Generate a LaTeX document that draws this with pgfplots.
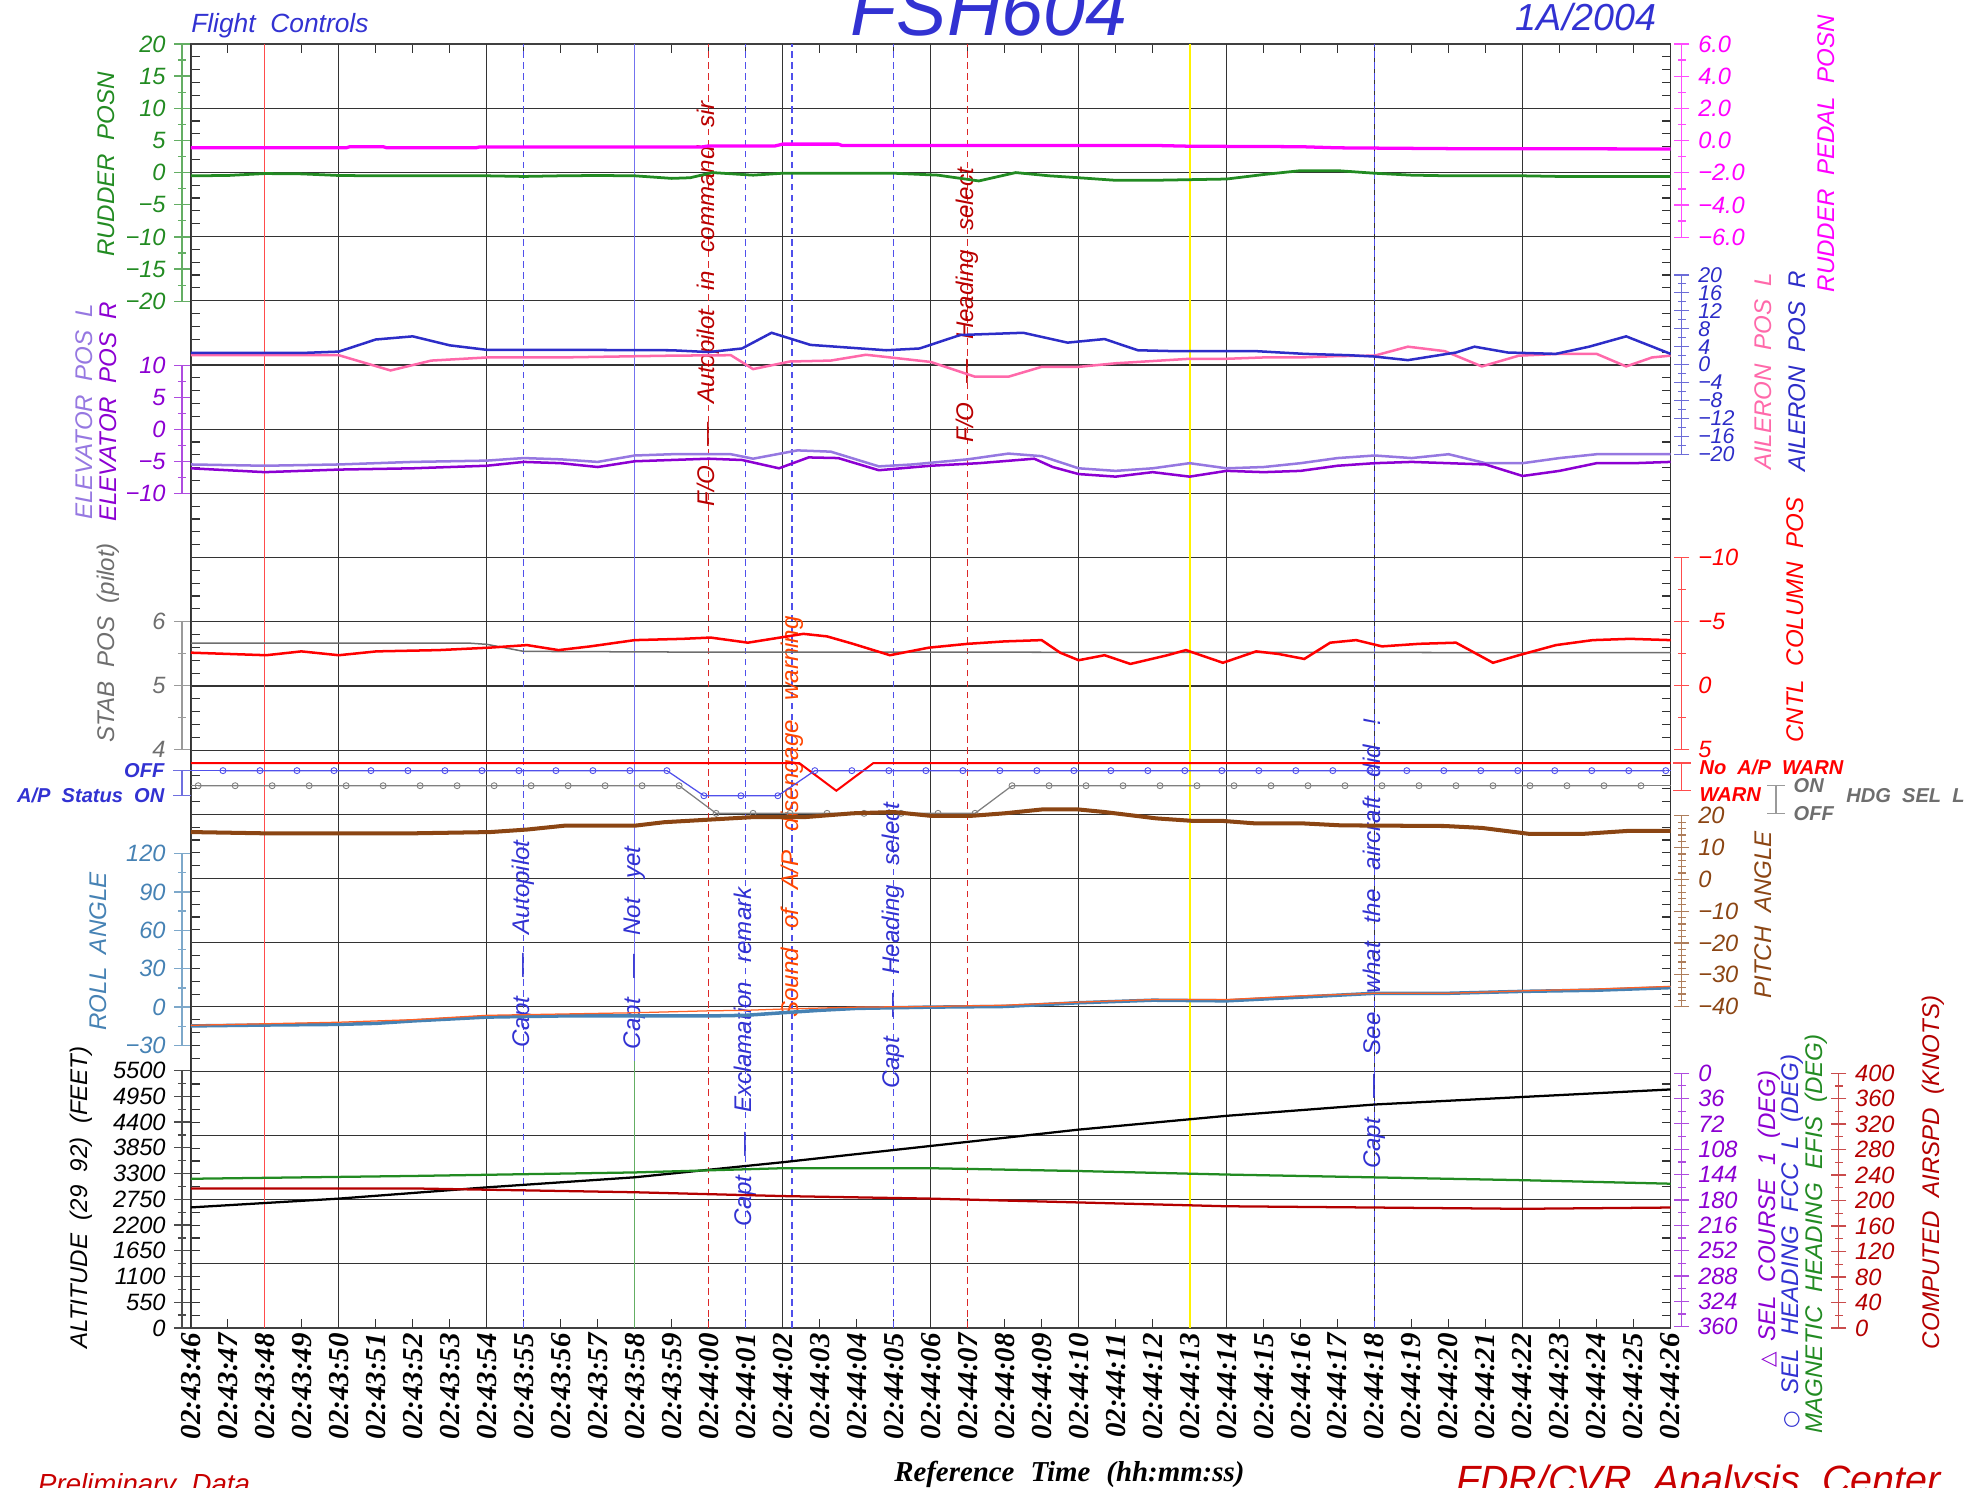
\documentclass[border=0pt]{standalone}
\usepackage{fontspec}
\setmainfont{Liberation Sans}
\newfontfamily\timesf{Liberation Serif}
\newfontfamily\dejavu{DejaVu Sans}
\usepackage{pgfplots}
\pgfplotsset{compat=1.18}

\definecolor{cBlue}{RGB}{50,50,210}
\definecolor{cGreen}{RGB}{34,139,34}
\definecolor{cMag}{RGB}{255,0,255}
\definecolor{cElevL}{RGB}{150,120,225}
\definecolor{cElevR}{RGB}{140,0,210}
\definecolor{cGray}{RGB}{110,110,110}
\definecolor{cPink}{RGB}{255,105,170}
\definecolor{cAilR}{RGB}{45,45,200}
\definecolor{cRed}{RGB}{255,0,0}
\definecolor{cSteel}{RGB}{70,130,180}
\definecolor{cBrown}{RGB}{139,69,19}
\definecolor{cPurp}{RGB}{153,50,204}
\definecolor{cDRed}{RGB}{180,0,0}
\definecolor{cOrange}{RGB}{255,69,0}
\definecolor{cFO}{RGB}{185,0,0}
\definecolor{cEvBlue}{RGB}{80,80,235}
\definecolor{cEvRed}{RGB}{220,40,40}
\definecolor{cFoot}{RGB}{200,0,0}

\newcommand{\ticklab}{\fontsize{9.4}{9.4}\selectfont\itshape}
\newcommand{\labfont}{\fontsize{9.6}{10}\selectfont\itshape}
\newcommand{\gap}{\hspace{0.8em}}
\newcommand{\dsp}{\hspace{0.556em}}

\pgfplotsset{
  dax/.style={scale only axis, width=589.5pt, xmin=0, xmax=40, hide axis, clip=false, anchor=south west},
  sc/.style={scale only axis, width=1pt, xmin=0, xmax=1, axis x line=none,
     tick align=outside, major tick length=6pt, minor tick length=3.2pt,
     yticklabel style={font=\ticklab}, clip=false},
  lsc/.style={sc, axis y line=left, anchor=south west},
  rsc/.style={sc, axis y line=right, anchor=south east},
  scol/.style={axis line style={#1!70, -, line width=0.5pt}, tick style={#1!70, line width=0.5pt}, yticklabel style={text=#1}},
  evb/.style={cEvBlue, dash pattern=on 2.6pt off 1.8pt, line width=0.5pt},
  evr/.style={cEvRed, dash pattern=on 2.6pt off 1.8pt, line width=0.5pt},
}

\begin{document}
\begin{tikzpicture}
\useasboundingbox (0pt,0pt) rectangle (784pt,-592.5pt);

% ---------------- main frame with grid and event lines
\begin{axis}[
  at={(76pt,-529pt)}, anchor=south west,
  scale only axis, width=589.5pt, height=511.5pt,
  xmin=0, xmax=40, ymin=0, ymax=20,
  xtick={0,...,40},
  xticklabels={02:43:46,02:43:47,02:43:48,02:43:49,02:43:50,02:43:51,02:43:52,02:43:53,02:43:54,02:43:55,02:43:56,02:43:57,02:43:58,02:43:59,02:44:00,02:44:01,02:44:02,02:44:03,02:44:04,02:44:05,02:44:06,02:44:07,02:44:08,02:44:09,02:44:10,02:44:11,02:44:12,02:44:13,02:44:14,02:44:15,02:44:16,02:44:17,02:44:18,02:44:19,02:44:20,02:44:21,02:44:22,02:44:23,02:44:24,02:44:25,02:44:26},
  xticklabel style={rotate=90, anchor=east, font=\timesf\bfseries\itshape\fontsize{11.5}{11.5}\selectfont, inner sep=2pt},
  ytick={0,...,20}, yticklabels={},
  minor y tick num=4,
  ymajorgrids, grid style={black!80, line width=0.45pt},
  extra x ticks={0,4,...,40}, extra x tick labels={},
  extra x tick style={xmajorgrids=true, major tick length=0pt},
  tick align=inside, major tick length=3.5pt, minor tick length=3.5pt,
  tick style={black!80, line width=0.45pt},
  axis line style={black!75, line width=0.6pt},
  clip=false,
]
\addplot[cRed!70, line width=0.5pt] coordinates {(2,0) (2,20)};
\addplot[evb] coordinates {(9,0) (9,20)};
\addplot[cEvBlue!80, line width=0.5pt] coordinates {(12,4.16) (12,20)};
\addplot[cGreen!70, line width=0.5pt] coordinates {(12,0) (12,4.16)};
\addplot[evr] coordinates {(14,0) (14,20)};
\addplot[evb] coordinates {(15,0) (15,20)};
\addplot[evb] coordinates {(16.25,0) (16.25,20)};
\addplot[evb] coordinates {(19,0) (19,20)};
\addplot[evr] coordinates {(21,0) (21,20)};
\addplot[yellow, line width=0.7pt] coordinates {(27,0) (27,20)};
\addplot[evb] coordinates {(32,0) (32,20)};

\node[rotate=90, text=cFO, font=\labfont] at (axis cs:14,15.95) {F/O\gap—\gap Autopilot\gap in\gap command\gap sir};
\node[rotate=90, text=cFO, font=\labfont] at (axis cs:21,15.93) {F/O\gap—\gap Heading\gap select};
\node[rotate=90, text=cBlue, font=\labfont] at (axis cs:9,5.98) {Capt\gap—\gap Autopilot};
\node[rotate=90, text=cBlue, font=\labfont] at (axis cs:12,5.92) {Capt\gap—\gap Not\gap yet};
\node[rotate=90, text=cBlue, font=\labfont] at (axis cs:15,4.22) {Capt\gap—\gap Exclamation\gap remark};
\node[rotate=90, text=cOrange, font=\labfont] at (axis cs:16.25,7.96) {Sound\gap of\gap A/P\gap disengage\gap warning};
\node[rotate=90, text=cBlue, font=\labfont] at (axis cs:19,5.96) {Capt\gap—\gap Heading\gap select};
\node[rotate=90, text=cBlue, font=\labfont] at (axis cs:32,5.98) {Capt\gap—\gap See\gap what\gap the\gap aircraft\gap did\gap !};
\end{axis}

% ---------------- left scales
\begin{axis}[lsc, scol=cGreen, at={(72.5pt,-120pt)}, height=102.5pt, ymin=-20, ymax=20,
  ytick={-20,-15,...,20}, yticklabels={−20,−15,−10,−5,0,5,10,15,20}, minor y tick num=1]
\end{axis}
\begin{axis}[lsc, scol=cElevR, at={(72.5pt,-196.5pt)}, height=51pt, ymin=-10, ymax=10,
  ytick={-10,-5,...,10}, yticklabels={−10,−5,0,5,10}, minor y tick num=1]
\end{axis}
\begin{axis}[lsc, scol=cGray, at={(72.5pt,-298.5pt)}, height=51pt, ymin=4, ymax=6,
  ytick={4,5,6}, yticklabels={4,5,6}, minor y tick num=1]
\end{axis}
\begin{axis}[lsc, scol=cBlue, at={(72.5pt,-317pt)}, height=10pt, ymin=0, ymax=1,
  ytick={0,1}, yticklabels={A/P\dsp Status\dsp ON,OFF}, major tick length=7pt,
  yticklabel style={font=\fontsize{8}{8}\selectfont\bfseries\itshape, inner ysep=0pt}]
\end{axis}
\begin{axis}[lsc, scol=cSteel, at={(72.5pt,-416.5pt)}, height=76.5pt, ymin=-30, ymax=120,
  ytick={-30,0,...,120}, yticklabels={−30,0,30,60,90,120}, minor y tick num=1]
\end{axis}
\begin{axis}[lsc, scol=black, at={(72.5pt,-529pt)}, height=102.5pt, ymin=0, ymax=5500,
  ytick={0,550,...,5500}, yticklabels={0,550,1100,1650,2200,2750,3300,3850,4400,4950,5500}, minor y tick num=1]
\end{axis}

% ---------------- right scales
\begin{axis}[rsc, scol=cMag, at={(670pt,-94.5pt)}, height=77pt, ymin=-6, ymax=6,
  ytick={-6,-4,...,6}, yticklabels={−6.0,−4.0,−2.0,0.0,2.0,4.0,6.0}, minor y tick num=1]
\end{axis}
\begin{axis}[rsc, scol=cAilR, at={(670pt,-181pt)}, height=71.5pt, ymin=-20, ymax=20,
  ytick={-20,-16,...,20}, yticklabels={−20,−16,−12,−8,−4,0,4,8,12,16,20}, minor y tick num=1,
  yticklabel style={font=\fontsize{8.5}{8.5}\selectfont\itshape}]
\end{axis}
\begin{axis}[rsc, scol=cRed, at={(670pt,-298.5pt)}, height=76.5pt, ymin=-10, ymax=5, y dir=reverse,
  ytick={-10,-5,0,5}, yticklabels={−10,−5,0,5}, minor y tick num=1,
  yticklabel style={inner ysep=0pt}]
\end{axis}
\begin{axis}[rsc, scol=cRed, at={(670pt,-315pt)}, height=11pt, ymin=0, ymax=1, y dir=reverse,
  ytick={0,1}, yticklabels={No\dsp A/P\dsp WARN,WARN}, major tick length=7pt,
  yticklabel style={font=\fontsize{8}{8}\selectfont\bfseries\itshape, inner ysep=0pt, yshift=-1.6pt}]
\end{axis}
\begin{axis}[rsc, scol=cGray, at={(707.5pt,-324pt)}, height=11pt, ymin=0, ymax=1,
  ytick={0,1}, yticklabels={OFF,ON}, major tick length=7pt,
  yticklabel style={font=\fontsize{8}{8}\selectfont\bfseries\itshape, inner ysep=0pt}]
\end{axis}
\begin{axis}[rsc, scol=cBrown, at={(670pt,-401pt)}, height=76pt, ymin=-40, ymax=20,
  ytick={-40,-30,...,20}, yticklabels={−40,−30,−20,−10,0,10,20}, minor y tick num=4]
\end{axis}
\begin{axis}[rsc, scol=cElevR, at={(670pt,-528.5pt)}, height=101pt, ymin=0, ymax=360, y dir=reverse,
  ytick={0,36,...,360}, yticklabels={0,36,72,108,144,180,216,252,288,324,360}, minor y tick num=1]
\end{axis}
\begin{axis}[rsc, scol=cDRed, at={(732.5pt,-529pt)}, height=101.5pt, ymin=0, ymax=400,
  ytick={0,40,...,400}, yticklabels={0,40,80,120,160,200,240,280,320,360,400}, minor y tick num=1]
\end{axis}

% ---------------- data
% rudder pedal
\begin{axis}[dax, at={(76pt,-94.5pt)}, height=77pt, ymin=-6, ymax=6]
\addplot[cMag, line width=1.3pt] coordinates {(0,-0.45)(4.2,-0.45)(4.3,-0.38)(5.2,-0.38)(5.3,-0.45)(7.7,-0.45)(7.8,-0.40)(13.8,-0.40)(14,-0.33)(15.8,-0.33)(16,-0.22)(17.5,-0.22)(17.6,-0.30)(26,-0.30)(27,-0.35)(30,-0.38)(31,-0.45)(34,-0.50)(40,-0.52)};
\end{axis}
% rudder
\begin{axis}[dax, at={(76pt,-120pt)}, height=102.5pt, ymin=-20, ymax=20]
\addplot[cGreen, line width=1.1pt] coordinates {(0,-0.5)(1,-0.45)(2,-0.15)(3,-0.2)(4,-0.45)(5,-0.5)(8,-0.5)(9,-0.6)(10,-0.5)(11,-0.45)(12,-0.5)(13,-0.9)(13.5,-0.8)(14.1,0)(15.2,-0.4)(16,-0.1)(19,-0.1)(20.2,-0.4)(21.3,-1.3)(22.3,0)(23.2,-0.5)(24,-0.8)(25,-1.2)(26,-1.2)(27,-1.1)(28,-1.0)(29,-0.3)(30,0.3)(31,0.3)(32,-0.1)(33,-0.4)(34,-0.5)(36,-0.5)(37,-0.6)(40,-0.6)};
\end{axis}
% ailerons
\begin{axis}[dax, at={(76pt,-181pt)}, height=71.5pt, ymin=-20, ymax=20]
\addplot[cPink, line width=1pt] coordinates {(0,2.1)(4,2.1)(5.4,-1.3)(6.5,0.9)(8,1.6)(10,1.6)(13,2.0)(14.6,2.1)(15.2,-1.0)(16.2,0.7)(17.3,0.9)(18.25,2.2)(20,0.6)(21.2,-2.7)(22.1,-2.7)(23,-0.5)(24,-0.5)(25,0.3)(26,0.8)(27,1.3)(28,1.3)(29,1.6)(30,1.6)(31,1.9)(32,2.0)(32.9,4.0)(33.9,3.0)(34.9,-0.4)(35.9,2.0)(37,2.4)(38,2.4)(38.8,-0.4)(39.5,1.6)(40,2.0)};
\addplot[cAilR, line width=1pt] coordinates {(0,2.6)(3,2.6)(4,2.9)(5,5.6)(6,6.3)(7,4.3)(8,3.3)(10,3.3)(13,3.2)(14,2.8)(14.9,3.6)(15.7,7.1)(16.75,4.4)(18.8,3.2)(19.7,3.6)(20.8,6.6)(22.5,7.1)(23.7,4.9)(24.7,5.7)(25.6,3.2)(26.6,3.0)(28.8,3.0)(30.1,2.4)(31.3,2.1)(32,1.8)(32.9,1.0)(34.2,2.7)(34.7,4.0)(35.6,2.7)(36.9,2.4)(37.8,4.0)(38.8,6.3)(40,2.4)};
\end{axis}
% elevators
\begin{axis}[dax, at={(76pt,-196.5pt)}, height=51pt, ymin=-10, ymax=10]
\addplot[cElevL, line width=1pt] coordinates {(0,-5.5)(2,-5.7)(4,-5.5)(6,-5.1)(8,-4.9)(9,-4.5)(10,-4.7)(11,-5.1)(12,-4.1)(13,-3.9)(14.6,-3.9)(15.2,-4.6)(16.4,-3.3)(17.3,-3.5)(18.6,-5.8)(19.5,-5.5)(21,-4.7)(22.1,-3.8)(23,-4.2)(24,-6.1)(25,-6.5)(26,-6.1)(27,-5.3)(28,-6.1)(29,-5.9)(30,-5.3)(31,-4.5)(32,-4.1)(33,-4.5)(34,-3.9)(35,-5.3)(36,-5.3)(37,-4.5)(38,-3.9)(40,-3.9)};
\addplot[cElevR, line width=1pt] coordinates {(0,-6.1)(2,-6.7)(4,-6.3)(6,-6.1)(8,-5.7)(9,-5.1)(10,-5.3)(11,-5.9)(12,-5.0)(14,-4.6)(14.9,-4.8)(15.9,-6.1)(16.7,-4.4)(17.5,-4.5)(18.6,-6.4)(20,-5.7)(21.3,-5.3)(22.8,-4.6)(23.3,-5.9)(24,-7.0)(25,-7.4)(26,-6.7)(27,-7.4)(28,-6.5)(29,-6.7)(30,-6.5)(31,-5.7)(32,-5.3)(33,-5.1)(34,-5.3)(35,-5.5)(36,-7.3)(37,-6.5)(38,-5.3)(39,-5.3)(40,-5.1)};
\end{axis}
% stab
\begin{axis}[dax, at={(76pt,-298.5pt)}, height=51pt, ymin=4, ymax=6]
\addplot[cGray, line width=0.6pt] coordinates {(0,5.66)(7.5,5.66)(8,5.64)(9,5.53)(13,5.52)(40,5.51)};
\end{axis}
% control column
\begin{axis}[dax, at={(76pt,-298.5pt)}, height=76.5pt, ymin=-10, ymax=5, y dir=reverse]
\addplot[cRed, line width=1pt] coordinates {(0,-2.55)(2.04,-2.35)(2.99,-2.65)(4.0,-2.35)(5.02,-2.65)(6.7,-2.75)(8.07,-2.94)(9.09,-3.14)(9.94,-2.75)(10.8,-3.04)(12.0,-3.53)(13.3,-3.63)(14.05,-3.73)(15.06,-3.33)(16.56,-4.02)(17.2,-3.82)(17.9,-3.24)(18.9,-2.35)(19.95,-2.94)(21.0,-3.24)(22.0,-3.43)(23.0,-3.53)(23.5,-2.55)(24.0,-1.96)(24.7,-2.35)(25.4,-1.67)(26.4,-2.35)(26.9,-2.75)(27.9,-1.76)(28.8,-2.65)(29.4,-2.45)(30.1,-2.06)(30.8,-3.33)(31.5,-3.53)(32.2,-3.04)(33.2,-3.24)(34.2,-3.33)(35.2,-1.76)(35.9,-2.35)(36.9,-3.14)(37.9,-3.53)(38.9,-3.63)(40,-3.53)};
\end{axis}
% A/P warn
\begin{axis}[dax, at={(76pt,-315pt)}, height=11pt, ymin=0, ymax=1, y dir=reverse]
\addplot[cRed, line width=0.8pt] coordinates {(0,0)(16.45,0)(17.45,1)(18.45,0)(40,0)};
\end{axis}
% A/P status
\begin{axis}[dax, at={(76pt,-317pt)}, height=10pt, ymin=0, ymax=1]
\addplot[cEvBlue, line width=0.5pt] coordinates {(0,1)(0.87,1)};
\addplot[cEvBlue, line width=0.5pt, mark=o, mark size=1.2pt, mark options={line width=0.35pt}] coordinates {(0.87,1)(1.87,1)(2.87,1)(3.87,1)(4.87,1)(5.87,1)(6.87,1)(7.87,1)(8.87,1)(9.87,1)(10.87,1)(11.87,1)(12.87,1)(13.87,0)(14.87,0)(15.87,0)(16.87,1)(17.87,1)(18.87,1)(19.87,1)(20.87,1)(21.87,1)(22.87,1)(23.87,1)(24.87,1)(25.87,1)(26.87,1)(27.87,1)(28.87,1)(29.87,1)(30.87,1)(31.87,1)(32.87,1)(33.87,1)(34.87,1)(35.87,1)(36.87,1)(37.87,1)(38.87,1)(39.87,1)};
\addplot[cEvBlue, line width=0.5pt] coordinates {(39.87,1)(40,1)};
\end{axis}
% HDG SEL L
\begin{axis}[dax, at={(76pt,-324pt)}, height=11pt, ymin=0, ymax=1]
\addplot[gray, line width=0.5pt] coordinates {(0,1)(0.2,1)};
\addplot[gray, line width=0.5pt, mark=o, mark size=1.2pt, mark options={line width=0.35pt}] coordinates {(0.2,1)(1.2,1)(2.2,1)(3.2,1)(4.2,1)(5.2,1)(6.2,1)(7.2,1)(8.2,1)(9.2,1)(10.2,1)(11.2,1)(12.2,1)(13.2,1)(14.2,0)(15.2,0)(16.2,0)(17.2,0)(18.2,0)(19.2,0)(20.2,0)(21.2,0)(22.2,1)(23.2,1)(24.2,1)(25.2,1)(26.2,1)(27.2,1)(28.2,1)(29.2,1)(30.2,1)(31.2,1)(32.2,1)(33.2,1)(34.2,1)(35.2,1)(36.2,1)(37.2,1)(38.2,1)(39.2,1)};
\addplot[gray, line width=0.5pt] coordinates {(39.2,1)(40,1)};
\end{axis}
% pitch
\begin{axis}[dax, at={(76pt,-401pt)}, height=76pt, ymin=-40, ymax=20]
\addplot[cBrown, line width=1.6pt] coordinates {(0,14.9)(2,14.5)(6,14.5)(8.1,14.9)(9.1,15.7)(10.1,16.9)(12,16.9)(12.8,18.0)(14,18.8)(15.2,19.6)(16.6,19.6)(17.9,20.8)(19,21.2)(20,20.0)(21.1,20.0)(22,20.8)(23,22.0)(24,22.0)(24.7,21.2)(26.1,19.2)(27.1,18.4)(27.9,18.4)(28.8,17.6)(30.1,17.6)(31.1,17.0)(33.9,16.8)(34.9,16.2)(36.2,14.3)(37.6,14.3)(38.9,15.3)(40,15.3)};
\end{axis}
% roll
\begin{axis}[dax, at={(76pt,-416.5pt)}, height=76.5pt, ymin=-30, ymax=120]
\addplot[cSteel, line width=1.4pt] coordinates {(0,-14.7)(2,-14)(4,-13.5)(5,-12.7)(6,-10.8)(8,-7.8)(10,-6.9)(12,-6.9)(14,-6.9)(15,-6.4)(16,-4.4)(17,-2.5)(18,-1)(20,0)(22,0.5)(24,3.4)(26,5.4)(28,4.9)(30,7.8)(32,10.8)(34,10.8)(36,12.3)(38,13.2)(40,15.2)};
\addplot[cOrange!85, line width=0.5pt] coordinates {(0,-14.2)(4,-11.8)(6,-9.8)(8,-6.4)(10,-5.4)(12,-4.4)(14,-2.9)(15,-2.5)(16,-1.5)(18,0)(20,0.5)(22,1.5)(24,3.9)(26,5.9)(28,5.9)(30,8.8)(32,10.8)(34,10.8)(36,12.7)(38,14.2)(40,16.2)};
\end{axis}
% altitude
\begin{axis}[dax, at={(76pt,-529pt)}, height=102.5pt, ymin=0, ymax=5500]
\addplot[black, line width=0.9pt] coordinates {(0,2576)(4,2764)(8,3005)(12,3220)(16,3542)(20,3890)(24,4239)(28,4534)(32,4776)(36,4937)(40,5098)};
\end{axis}
% magnetic heading
\begin{axis}[dax, at={(76pt,-528.5pt)}, height=101pt, ymin=0, ymax=360, y dir=reverse]
\addplot[cGreen, line width=0.9pt] coordinates {(0,150)(6,146)(12,141)(16,135)(20,135)(24,139)(28,144)(32,148)(36,152)(40,157)};
\end{axis}
% airspeed
\begin{axis}[dax, at={(76pt,-529pt)}, height=101.5pt, ymin=0, ymax=400]
\addplot[cDRed, line width=0.9pt] coordinates {(0,219)(6,219)(12,213)(16,207)(20,203)(24,197)(28,191)(32,189)(36,187)(40,189)};
\end{axis}

% ---------------- axis titles
\node[rotate=90, text=cGreen, font=\labfont] at (42.5pt,-65.5pt) {RUDDER\dsp POSN};
\node[rotate=90, text=cElevL, font=\labfont] at (33.5pt,-164pt) {ELEVATOR\dsp POS\dsp L};
\node[rotate=90, text=cElevR, font=\labfont] at (43pt,-164pt) {ELEVATOR\dsp POS\dsp R};
\node[rotate=90, text=cGray, font=\labfont] at (43pt,-256pt) {STAB\dsp POS\dsp (pilot)};
\node[rotate=90, text=cSteel, font=\labfont] at (39pt,-379pt) {ROLL\dsp ANGLE};
\node[rotate=90, text=black, font=\labfont] at (32.5pt,-477pt) {ALTITUDE\dsp (29\dsp 92)\dsp (FEET)};

\node[rotate=90, anchor=west, text=cMag, font=\labfont] at (728.5pt,-120pt) {RUDDER\dsp PEDAL\dsp POSN\dsp (DEG)};
\node[rotate=90, text=cPink, font=\labfont] at (702.5pt,-148pt) {AILERON\dsp POS\dsp L};
\node[rotate=90, text=cAilR, font=\labfont] at (716pt,-148pt) {AILERON\dsp POS\dsp R};
\node[rotate=90, text=cRed, font=\labfont] at (715pt,-247pt) {CNTL\dsp COLUMN\dsp POS};
\node[anchor=west, text=cGray, font=\fontsize{8}{8}\selectfont\bfseries\itshape] at (732pt,-317pt) {HDG\dsp SEL\dsp L};
\node[rotate=90, text=cBrown, font=\labfont] at (702.5pt,-364.5pt) {PITCH\dsp ANGLE};
\node[rotate=90, anchor=east, text=cElevR, font=\labfont] at (705pt,-423pt) {SEL\dsp COURSE\dsp 1\dsp (DEG)};
\node[rotate=90, text=cElevR, font=\dejavu\fontsize{8}{8}\selectfont] at (705pt,-541.5pt) {△};
\node[rotate=90, anchor=east, text=cBlue, font=\labfont] at (714pt,-416.5pt) {SEL\dsp HEADING\dsp FCC\dsp L\dsp (DEG)};
\node[rotate=90, text=cBlue, font=\dejavu\fontsize{8}{8}\selectfont] at (714pt,-565.5pt) {○};
\node[rotate=90, anchor=east, text=cGreen, font=\labfont] at (723.5pt,-408.5pt) {MAGNETIC\dsp HEADING\dsp EFIS\dsp (DEG)};
\node[rotate=90, text=cDRed, font=\labfont] at (770pt,-467pt) {COMPUTED\dsp AIRSPD\dsp (KNOTS)};

% ---------------- titles
\node[anchor=base west, inner sep=0pt, text=cBlue, font=\fontsize{10.5}{11}\selectfont\itshape] at (76pt,-13pt) {Flight\dsp Controls};
\node[anchor=base, inner sep=0pt, text=cBlue, font=\fontsize{30}{30}\selectfont\itshape] at (394pt,-14pt) {FSH604};
\node[anchor=base east, inner sep=0pt, text=cBlue, font=\fontsize{15}{15}\selectfont\itshape] at (660pt,-12pt) {1A/2004};
\node[anchor=base west, inner sep=0pt, text=cFoot, font=\fontsize{11}{11}\selectfont\itshape] at (15pt,-595pt) {Preliminary\dsp Data};
\node[anchor=base, inner sep=0pt, text=black, font=\timesf\bfseries\itshape\fontsize{11.5}{11.5}\selectfont] at (426pt,-590pt) {Reference\dsp Time\dsp (hh:mm:ss)};
\node[anchor=base west, inner sep=0pt, text=cFoot, font=\fontsize{15.7}{16}\selectfont\itshape] at (580pt,-595pt) {FDR/CVR\dsp Analysis\dsp Center};
\end{tikzpicture}
\end{document}
